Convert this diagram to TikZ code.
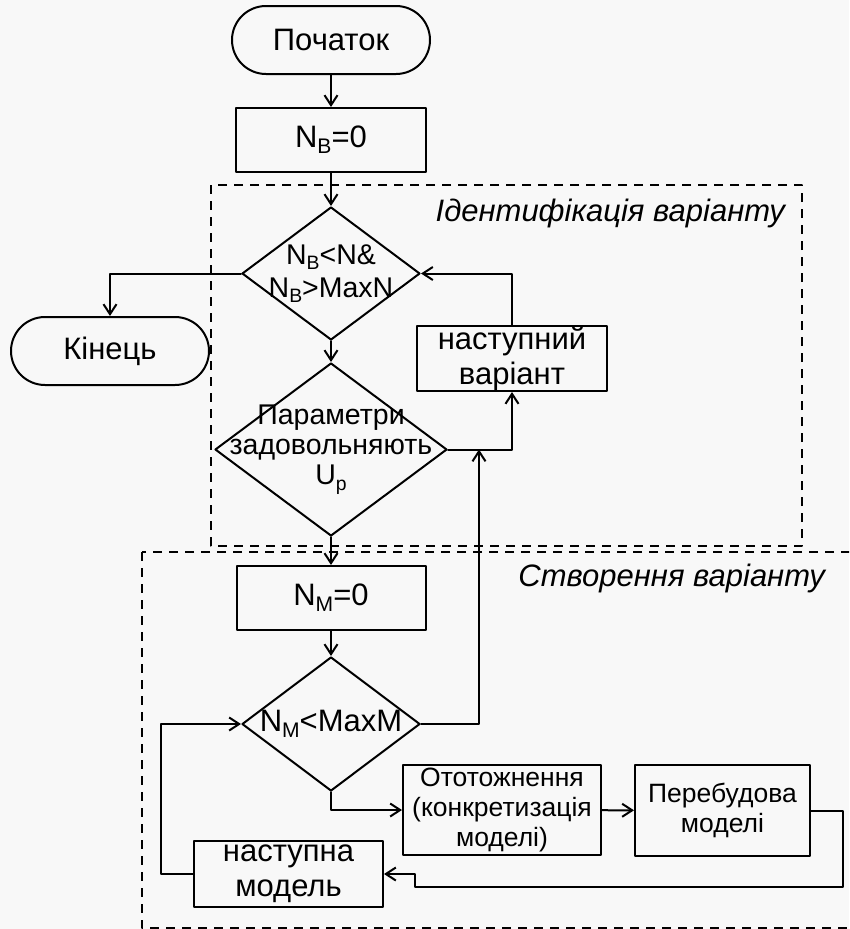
\documentclass[tikz,border=0pt]{standalone}
\usepackage{fontspec}
\setmainfont{Liberation Sans}
\usetikzlibrary{shapes.geometric,shapes.misc,arrows.meta}
\definecolor{bgpaper}{RGB}{248,248,248}
\newcommand{\idx}[1]{\raisebox{-0.2em}{\scalebox{0.68}{#1}}}
\tikzset{
  block/.style={draw,align=center,inner sep=0pt,font=\fontsize{31}{35}\selectfont},
  terminal/.style={block,rounded rectangle,minimum width=198pt,minimum height=68pt},
  process/.style={block,rectangle,minimum width=190pt,minimum height=64pt},
  decision/.style={block,diamond,inner sep=-50pt,font=\fontsize{28.5}{30}\selectfont},
  smalltext/.style={font=\fontsize{26.5}{30}\selectfont},
  groupframe/.style={dash pattern=on 9pt off 7pt,line cap=butt},
  grouptitle/.style={anchor=east,inner sep=0pt,font=\fontsize{31}{35}\selectfont\itshape}
}
\begin{document}
\begin{tikzpicture}[line cap=round,line join=round,line width=2pt,>={Straight Barb[length=10pt,width=13pt]},x=1pt,y=-1pt]
\fill[bgpaper] (0,0) rectangle (849,929);
\clip (0,0) rectangle (849,929);
% groups
\draw[groupframe] (211,185) rectangle (802,546);
\draw[groupframe] (142,552) rectangle (880,928);
\node[grouptitle] (identtitle) at (786,213) {Ідентифікація варіанту};
\node[grouptitle] (createtitle) at (826,578) {Створення варіанту};
% blocks
\node[terminal] (start) at (331,40) {Початок};
\node[process] (nb0) at (331,140) {N\idx{В}=0};
\node[decision,font=\fontsize{28.5}{33}\selectfont,minimum width=178pt,minimum height=133pt] (cond1) at (331,273.5) {N\idx{В}<N\&\\N\idx{В}>MaxN};
\node[terminal] (finish) at (110,351) {Кінець};
\node[decision,minimum width=232pt,minimum height=173pt] (cond2) at (331,449.5) {Параметри\\задовольняють\\U\idx{p}};
\node[process,minimum height=65pt] (nextvar) at (512,358.5) {наступний\\варіант};
\node[process,minimum width=189pt] (nm0) at (331,598) {N\idx{М}=0};
\node[decision,font=\fontsize{31}{35}\selectfont,minimum width=178pt,minimum height=134pt] (cond3) at (331,724) {N\idx{М}<MaxM};
\node[process,smalltext,minimum width=198pt,minimum height=90pt] (ident) at (502,810) {Ототожнення\\(конкретизація\\моделі)};
\node[process,smalltext,minimum width=175pt,minimum height=91pt] (rebuild) at (722.5,810.5) {Перебудова\\моделі};
\node[process,minimum width=189pt,minimum height=66pt] (nextmod) at (288.5,874) {наступна\\модель};
\coordinate (merge) at (479,449.5);
\coordinate (loopl) at (415,887);
% connectors
\draw[->] (start) -- (nb0);
\draw[->] (nb0) -- (cond1);
\draw[->] (cond1.west) -| (finish.north);
\draw[->] (cond1) -- (cond2);
\draw[->] (cond2.east) -| (nextvar.south);
\draw[->] (nextvar.north) |- (cond1.east);
\draw[->] (cond2) -- (nm0);
\draw[->] (nm0) -- (cond3);
\draw[->] (cond3.east) -| (merge);
\draw[->] (cond3.south) |- (ident.west);
\draw[->] (ident) -- (rebuild);
\draw[->] (rebuild.east) -- ++(32,0) |- (loopl) |- (nextmod.east);
\draw[->] (nextmod.west) -- ++(-32,0) |- (cond3.west);
\end{tikzpicture}
\end{document}
